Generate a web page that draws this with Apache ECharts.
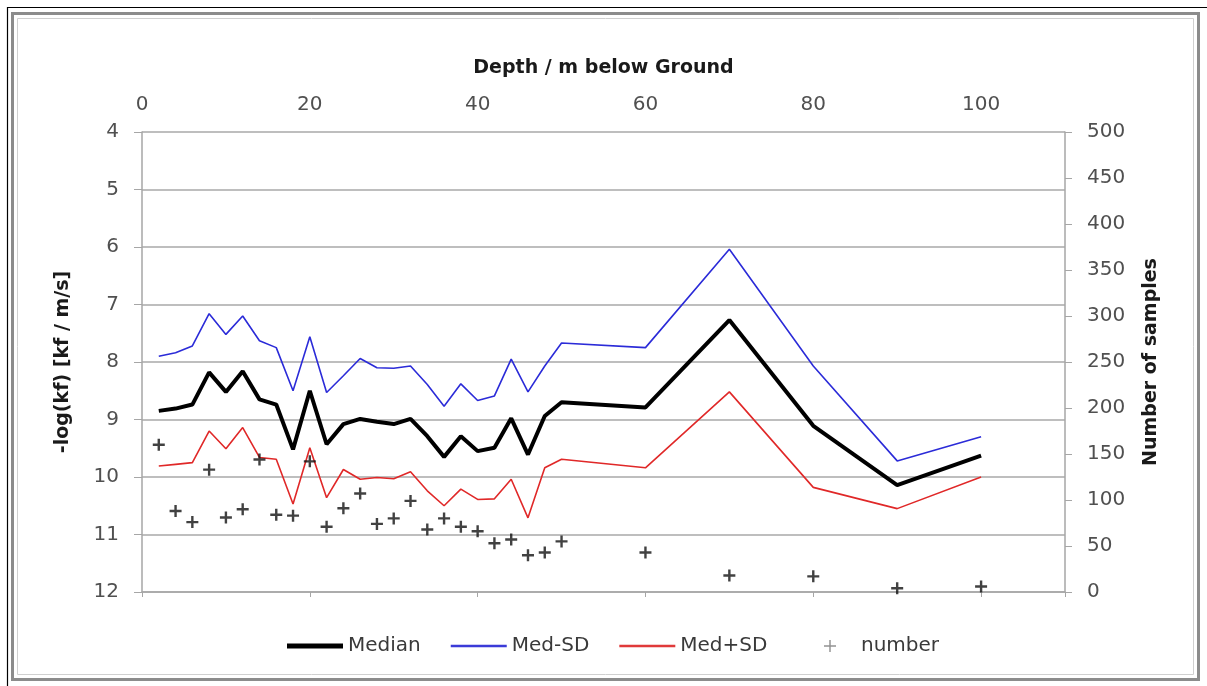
<!DOCTYPE html>
<html>
<head>
<meta charset="utf-8">
<script src="https://cdn.jsdelivr.net/npm/echarts@6/dist/echarts.min.js"></script>
<style>
html,body{margin:0;padding:0;background:#fff;}
#chart{width:1207px;height:686px;}
</style>
</head>
<body>
<div id="chart"></div>
<script>
// Depth in m below ground
var depths = [2,4,6,8,10,12,14,16,18,20,22,24,26,28,30,32,34,36,38,40,42,44,46,48,50,60,70,80,90,100];
// -log(kf)
var median = [8.85,8.81,8.74,8.18,8.52,8.16,8.65,8.74,9.52,8.50,9.43,9.08,8.99,9.04,9.08,8.99,9.29,9.65,9.29,9.55,9.49,8.98,9.61,8.94,8.70,8.79,7.27,9.11,10.14,9.63];
var medMinusSD = [7.90,7.84,7.72,7.16,7.52,7.20,7.63,7.75,8.50,7.56,8.53,8.24,7.94,8.10,8.11,8.07,8.39,8.77,8.38,8.67,8.59,7.95,8.52,8.07,7.67,7.75,6.04,8.07,9.72,9.30];
var medPlusSD = [9.81,9.78,9.75,9.20,9.51,9.14,9.66,9.69,10.47,9.49,10.36,9.87,10.04,10.01,10.03,9.91,10.24,10.50,10.21,10.39,10.38,10.04,10.71,9.84,9.69,9.84,8.52,10.18,10.55,10.00];
// number of samples
var counts = [160,88,76,133,81,90,144,84,83,142,71,91,107,74,80,99,68,80,71,66,53,57,40,43,55,43,18,17,4,6];

var lineNames = ['Median','Med-SD','Med+SD'];
var pointName = 'number';

function pairs(ys){ return depths.map(function(d,i){ return [d, ys[i]]; }); }

var FONT = '"DejaVu Sans", sans-serif';
var plusPath = 'path://M4,0H6V4H10V6H6V10H4V6H0V4H4Z';
var thinPlus = 'path://M4.4,0H5.6V4.4H10V5.6H5.6V10H4.4V5.6H0V4.4H4.4Z';
var thickBar = 'path://M0,0H56V5H0Z';
var thinBar = 'path://M0,0H56V2.4H0Z';
var axisGray = '#a6a6a6';
var labelColor = '#505050';
var titleColor = '#1a1a1a';
var legendText = {fontFamily: FONT, fontSize: 20, color: '#3a3a3a'};

var chart = echarts.init(document.getElementById('chart'), null, {renderer:'canvas'});
chart.setOption({
  backgroundColor: '#ffffff',
  animation: false,
  graphic: [
    {type:'rect', shape:{x:7.5,y:7.5,width:1210,height:690}, style:{fill:'none', stroke:'#000', lineWidth:1.2}, silent:true},
    {type:'rect', shape:{x:12.5,y:13.5,width:1186,height:666}, style:{fill:'none', stroke:'#8c8c8c', lineWidth:3}, silent:true},
    {type:'rect', shape:{x:17.5,y:18.5,width:1176,height:656}, style:{fill:'none', stroke:'#d0d0d0', lineWidth:1}, silent:true}
  ],
  grid: {left:142, right:142, top:132, height:460, containLabel:false},
  legend: [
    {
      top: 631,
      left: 282,
      itemWidth: 56,
      itemHeight: 12,
      itemGap: 30,
      textStyle: legendText,
      data: [
        {name:lineNames[0], icon: thickBar},
        {name:lineNames[1], icon: thinBar},
        {name:lineNames[2], icon: thinBar}
      ]
    },
    {
      top: 631,
      left: 819,
      itemWidth: 12,
      itemHeight: 12,
      textStyle: Object.assign({padding:[0,0,0,20]}, legendText),
      data: [{name:pointName, icon: thinPlus, itemStyle:{color:'#777'}}]
    }
  ],
  xAxis: {
    type: 'value',
    position: 'top',
    min: 0, max: 110, interval: 20,
    name: 'Depth / m below Ground',
    nameLocation: 'middle',
    nameGap: 54,
    nameTextStyle: {fontFamily: FONT, fontSize: 19, fontWeight:'bold', color:titleColor},
    axisLine: {show:true, lineStyle:{color:axisGray, width:1.5}},
    axisTick: {show:true, inside:true, length:5, lineStyle:{color:axisGray}},
    axisLabel: {fontFamily: FONT, fontSize: 20, color: labelColor, margin: 17,
      formatter: function(v){ return v > 100 ? '' : String(v); }},
    splitLine: {show:false}
  },
  yAxis: [
    {
      type: 'value',
      inverse: true,
      min: 4, max: 12, interval: 1,
      position: 'left',
      name: '-log(kf) [kf / m/s]',
      nameLocation: 'middle',
      nameGap: 69,
      nameRotate: 90,
      nameTextStyle: {fontFamily: FONT, fontSize: 19, fontWeight:'bold', color:titleColor},
      axisLine: {show:true, lineStyle:{color:axisGray, width:1.5}},
      axisTick: {show:true, length:8, lineStyle:{color:axisGray}},
      axisLabel: {fontFamily: FONT, fontSize: 20, color: labelColor, margin: 23},
      splitLine: {show:true, lineStyle:{color:'#a8a8a8', width:1.6}}
    },
    {
      type: 'value',
      min: 0, max: 500, interval: 50,
      position: 'right',
      name: 'Number of samples',
      nameLocation: 'middle',
      nameGap: 77,
      nameRotate: 90,
      nameTextStyle: {fontFamily: FONT, fontSize: 19, fontWeight:'bold', color:titleColor},
      axisLine: {show:true, lineStyle:{color:axisGray, width:1.5}},
      axisTick: {show:true, length:7, lineStyle:{color:axisGray}},
      axisLabel: {fontFamily: FONT, fontSize: 20, color: labelColor, margin: 22},
      splitLine: {show:false}
    }
  ],
  series: [
    {name:lineNames[0], type:'line', data: pairs(median), symbol:'none', yAxisIndex:0,
     lineStyle:{color:'#000', width:4}, itemStyle:{color:'#000'}, z:5},
    {name:lineNames[1], type:'line', data: pairs(medMinusSD), symbol:'none', yAxisIndex:0,
     lineStyle:{color:'#2b2bd8', width:1.6}, itemStyle:{color:'#3b3bd8'}, z:4},
    {name:lineNames[2], type:'line', data: pairs(medPlusSD), symbol:'none', yAxisIndex:0,
     lineStyle:{color:'#e02828', width:1.6}, itemStyle:{color:'#e03a3a'}, z:4},
    {name:pointName, type:'scatter', data: pairs(counts), yAxisIndex:1,
     symbol: plusPath, symbolSize: 12, itemStyle:{color:'#111'}, z:6}
  ]
});
</script>
</body>
</html>
